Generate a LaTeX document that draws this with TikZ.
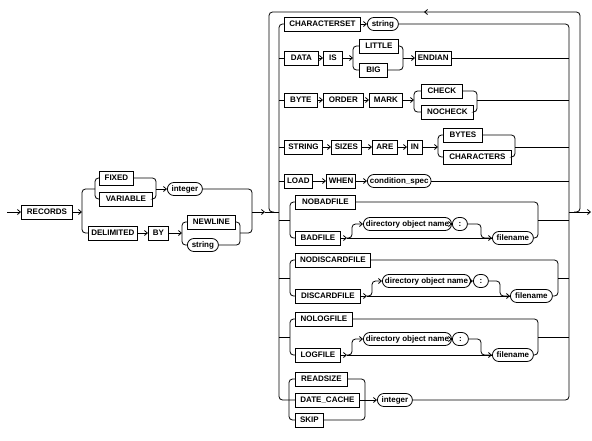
\documentclass[tikz,border=0pt]{standalone}
\usepackage{fontspec}
\setmainfont{Liberation Sans}
\usetikzlibrary{arrows.meta}
\tikzset{
  kw/.style={draw, line width=0.8pt, rectangle, anchor=west, minimum height=14pt,
    inner xsep=2.5pt, inner ysep=0pt, font=\fontsize{8}{9}\selectfont\bfseries},
  vr/.style={kw, minimum height=13pt, rounded corners=6.5pt},
  ln/.style={line width=0.8pt, rounded corners=3.5pt},
  ar/.style={ln, -{Straight Barb[length=3pt,width=5pt]}},
}
\begin{document}
\begin{tikzpicture}[x=1pt,y=-1pt]
\useasboundingbox (0,0) rectangle (592,440);
% ---------- left part ----------
\coordinate (start) at (7,212);
\node[kw,minimum width=51] (rec) at (21,212) {RECORDS};
\node[kw,minimum width=34] (fixed) at (99,178) {FIXED};
\node[kw,minimum width=53] (var) at (99,199) {VARIABLE};
\node[vr,minimum width=35] (int1) at (167,189) {integer};
\node[kw,minimum width=49] (delim) at (88,233) {DELIMITED};
\node[kw,minimum width=20] (by) at (148,233) {BY};
\node[kw,minimum width=48] (nl) at (187,222) {NEWLINE};
\node[vr,minimum width=31] (str1) at (187,245) {string};
\coordinate (jA) at (82,212);
\coordinate (jB) at (95,189);
\coordinate (jC) at (156,189);
\coordinate (jD) at (182,233);
\coordinate (jE) at (240,233);
\coordinate (jF) at (252,212);
\coordinate (jG) at (265,212);
\draw[ar] (start) -- (rec.west);
\draw[ar] (rec.east) -- (jA);
\draw[ln] (jB) -| (jA) |- (delim.west);
\draw[ln] (fixed.west) -| (jB) |- (var.west);
\draw[ln] (fixed.east) -| (jC) |- (var.east);
\draw[ar] (jC) -- (int1.west);
\draw[ar] (delim.east) -- (by.west);
\draw[ar] (by.east) -- (jD);
\draw[ln] (nl.west) -| (jD) |- (str1.west);
\draw[ln] (nl.east) -| (jE) |- (str1.east);
\draw[ln] (int1.east) -| (jF) |- (jE);
\draw[ar] (jF) -- (jG);
% ---------- main block ----------
\coordinate (L) at (279,212);
\coordinate (R) at (569,212);
\coordinate (X) at (591,212);
\draw[ln] (jG) -- (L);
\draw[ar] (R) -- (X);
% outer loop
\draw[ar] (574,212) -| (580,100) |- (424,12);
\draw[ln] (426,12) -| (269,100) |- (274,212);
% row 1
\node[kw,minimum width=76] (cs) at (284,24) {CHARACTERSET};
\node[vr,minimum width=31] (str2) at (367,24) {string};
\draw[ar] (cs.east) -- (str2.west);
% row 2
\node[kw,minimum width=34] (data) at (284,58) {DATA};
\node[kw,minimum width=19] (is) at (323,58) {IS};
\node[kw,minimum width=39] (little) at (359,46) {LITTLE};
\node[kw,minimum width=28] (big) at (359,70) {BIG};
\node[kw,minimum width=35] (endian) at (415,58) {ENDIAN};
\draw[ar] (data.east) -- (is.west);
\draw[ar] (is.east) -- (353,58);
\draw[ln] (little.west) -| (353,58) |- (big.west);
\draw[ln] (little.east) -| (403,58) |- (big.east);
\draw[ar] (403,58) -- (endian.west);
% row 3
\node[kw,minimum width=33] (byte) at (284,100) {BYTE};
\node[kw,minimum width=40] (order) at (323,100) {ORDER};
\node[kw,minimum width=33] (mark) at (369,100) {MARK};
\node[kw,minimum width=41] (check) at (421,91) {CHECK};
\node[kw,minimum width=52] (nocheck) at (421,112) {NOCHECK};
\draw[ar] (byte.east) -- (order.west);
\draw[ar] (order.east) -- (mark.west);
\draw[ar] (mark.east) -- (414,100);
\draw[ln] (check.west) -| (414,100) |- (nocheck.west);
\draw[ln] (check.east) -| (477,100) |- (nocheck.east);
% row 4
\node[kw,minimum width=38] (string) at (284,147) {STRING};
\node[kw,minimum width=30] (sizes) at (331,147) {SIZES};
\node[kw,minimum width=25] (are) at (372,147) {ARE};
\node[kw,minimum width=15] (in) at (407,147) {IN};
\node[kw,minimum width=39] (bytes) at (443,135) {BYTES};
\node[kw,minimum width=68] (chars) at (443,157) {CHARACTERS};
\draw[ar] (string.east) -- (sizes.west);
\draw[ar] (sizes.east) -- (are.west);
\draw[ar] (are.east) -- (in.west);
\draw[ar] (in.east) -- (438,147);
\draw[ln] (bytes.west) -| (438,147) |- (chars.west);
\draw[ln] (bytes.east) -| (515,147) |- (chars.east);
% row 5
\node[kw,minimum width=28] (load) at (284,181) {LOAD};
\node[kw,minimum width=28] (when) at (326,181) {WHEN};
\node[vr,minimum width=63] (cond) at (367,181) {condition\_spec};
\draw[ar] (load.east) -- (when.west);
\draw[ar] (when.east) -- (cond.west);
% group badfile
\node[kw,minimum width=60] (nobad) at (295,202) {NOBADFILE};
\node[kw,minimum width=45] (bad) at (295,238) {BADFILE};
\node[vr,minimum width=84] (dir1) at (363,224) {directory object name};
\node[vr,minimum width=15] (col1) at (452,224) {:};
\node[vr,minimum width=41] (file1) at (492,238) {filename};
\draw[ln] (nobad.west) -| (290,220) |- (bad.west);
\draw[ar] (bad.east) -- (347,238);
\draw[ln] (347,238) -- (file1.west);
\draw[ar] (347,238) -| (352,231) |- (dir1.west);
\draw[ar] (dir1.east) -- (col1.west);
\draw[ar] (col1.east) -| (481,231) |- (file1.west);
\draw[ln] (nobad.east) -| (538,220) |- (file1.east);
\draw[ln] (279,220) -- (290,220);
\draw[ln] (538,220) -- (569,220);
% group discardfile
\node[kw,minimum width=75] (nodisc) at (295,260) {NODISCARDFILE};
\node[kw,minimum width=65] (disc) at (295,296) {DISCARDFILE};
\node[vr,minimum width=86] (dir2) at (382,281) {directory object name};
\node[vr,minimum width=15] (col2) at (473,281) {:};
\node[vr,minimum width=42] (file2) at (510,296) {filename};
\draw[ln] (nodisc.west) -| (290,278) |- (disc.west);
\draw[ar] (disc.east) -- (367,296);
\draw[ln] (367,296) -- (file2.west);
\draw[ar] (367,296) -| (372,288) |- (dir2.west);
\draw[ar] (dir2.east) -- (col2.west);
\draw[ar] (col2.east) -| (500,288) |- (file2.west);
\draw[ln] (nodisc.east) -| (558,278) |- (file2.east);
\draw[ln] (279,278) -- (290,278);
\draw[ln] (558,278) -- (569,278);
% group logfile
\node[kw,minimum width=57] (nolog) at (295,319) {NOLOGFILE};
\node[kw,minimum width=45] (log) at (295,355) {LOGFILE};
\node[vr,minimum width=84] (dir3) at (363,339) {directory object name};
\node[vr,minimum width=16] (col3) at (452,339) {:};
\node[vr,minimum width=41] (file3) at (492,355) {filename};
\draw[ln] (nolog.west) -| (290,337) |- (log.west);
\draw[ar] (log.east) -- (347,355);
\draw[ln] (347,355) -- (file3.west);
\draw[ar] (347,355) -| (352,347) |- (dir3.west);
\draw[ar] (dir3.east) -- (col3.west);
\draw[ar] (col3.east) -| (481,347) |- (file3.west);
\draw[ln] (nolog.east) -| (538,337) |- (file3.east);
\draw[ln] (279,337) -- (290,337);
\draw[ln] (538,337) -- (569,337);
% last row
\node[kw,minimum width=52] (readsize) at (295,379) {READSIZE};
\node[kw,minimum width=64] (dc) at (295,400) {DATE\_CACHE};
\node[kw,minimum width=28] (skip) at (295,420) {SKIP};
\node[vr,minimum width=35] (int2) at (377,400) {integer};
\draw[ln] (readsize.west) -| (289,400) |- (skip.west);
\draw[ln] (readsize.east) -| (365,400) |- (skip.east);
\draw[ln] (dc.east) -- (365,400);
\draw[ar] (365,400) -- (int2.west);
% inner brackets
\draw[ln] (cs.west) -| (L) |- (dc.west);
\draw[ln] (str2.east) -| (R) |- (int2.east);
\draw[ln] (L |- data.west) -- (data.west);
\draw[ln] (L |- byte.west) -- (byte.west);
\draw[ln] (L |- string.west) -- (string.west);
\draw[ln] (L |- load.west) -- (load.west);
\draw[ln] (endian.east) -- (R |- endian.east);
\draw[ln] (477,100) -- (R |- byte.east);
\draw[ln] (515,147) -- (R |- string.east);
\draw[ln] (cond.east) -- (R |- cond.east);
\end{tikzpicture}
\end{document}
